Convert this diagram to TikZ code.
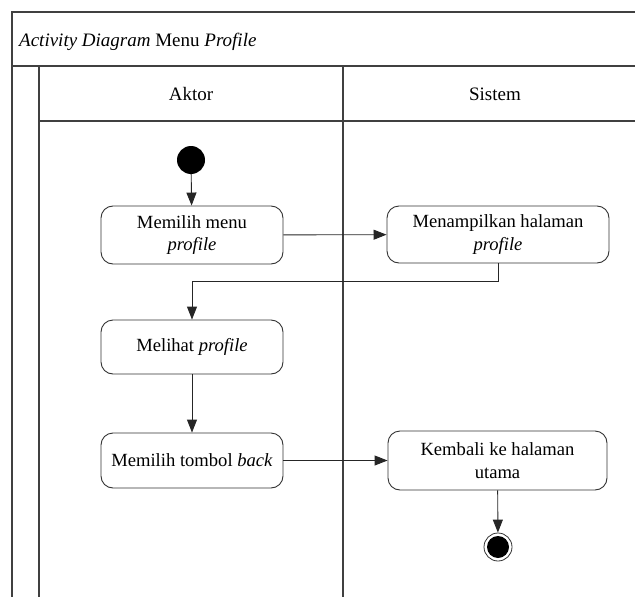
\documentclass[tikz,border=0pt]{standalone}
\usepackage{fontspec}
\setmainfont{Liberation Serif}
\usetikzlibrary{arrows.meta}
\begin{document}
\begin{tikzpicture}[x=1pt,y=-1pt,
  frame/.style={draw=black!75,line width=1.3pt},
  act/.style={draw=black!80,line width=0.9pt,rounded corners=12pt,align=center,inner sep=0pt,
    font=\fontsize{18.6}{22.5}\selectfont},
  lbl/.style={font=\fontsize{19}{22}\selectfont,inner sep=0pt},
  arr/.style={draw=black!85,line width=0.9pt,-{Triangle[length=13pt,width=10pt]}}]
\useasboundingbox (0,0) rectangle (635,597);
% swimlane frame
\draw[frame] (12,597) -- (12,12) -- (640,12);
\draw[frame] (12,66) -- (640,66);
\draw[frame] (39,597) -- (39,66);
\draw[frame] (39,121) -- (640,121);
\draw[frame] (343,66) -- (343,597);
% titles
\node[lbl,anchor=base west] (title) at (19,46) {\textit{Activity Diagram} Menu \textit{Profile}};
\node[lbl] (laneA) at (191,94) {Aktor};
\node[lbl] (laneS) at (495,94) {Sistem};
% activities
\node[circle,fill=black,minimum size=28pt,inner sep=0pt] (start) at (191,160) {};
\node[act,minimum width=182pt,minimum height=58pt] (b1) at (192,235) {Memilih menu\\\textit{profile}};
\node[act,minimum width=222pt,minimum height=57pt] (b2) at (498,234.5) {Menampilkan halaman\\\textit{profile}};
\node[act,minimum width=182pt,minimum height=54pt] (b3) at (192,347) {Melihat \textit{profile}};
\node[act,minimum width=182pt,minimum height=55pt] (b4) at (192,460.5) {Memilih tombol \textit{back}};
\node[act,minimum width=219pt,minimum height=59pt] (b5) at (497.5,460.5) {Kembali ke halaman\\utama};
\node[circle,draw=black!80,line width=0.8pt,minimum size=28pt,inner sep=0pt] (end) at (498,547) {};
\node[circle,fill=black,minimum size=22pt,inner sep=0pt] (endDot) at (end.center) {};
% flows
\draw[arr] (start) -- (b1);
\draw[arr] (b1) -- (b2);
\draw[arr] (b2.south) -- ++(0,18) -| (b3.north);
\draw[arr] (b3) -- (b4);
\draw[arr] (b4) -- (b5);
\draw[arr] (b5) -- (end);
\end{tikzpicture}
\end{document}
